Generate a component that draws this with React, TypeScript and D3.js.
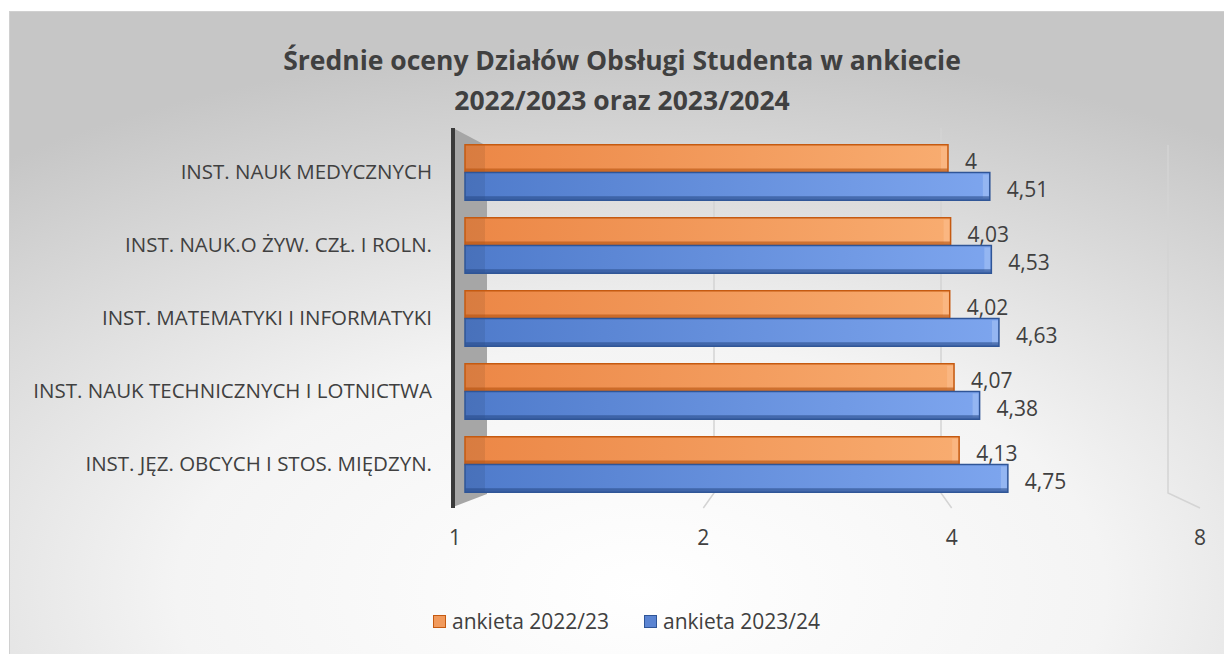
import React from "react";
import * as d3 from "d3";

const categories = [
  "INST. NAUK MEDYCZNYCH",
  "INST. NAUK.O ŻYW. CZŁ. I ROLN.",
  "INST. MATEMATYKI I INFORMATYKI",
  "INST. NAUK TECHNICZNYCH I LOTNICTWA",
  "INST. JĘZ. OBCYCH I STOS. MIĘDZYN.",
];
const values2223 = [4, 4.03, 4.02, 4.07, 4.13];
const values2324 = [4.51, 4.53, 4.63, 4.38, 4.75];
const labels2223 = ["4", "4,03", "4,02", "4,07", "4,13"];
const labels2324 = ["4,51", "4,53", "4,63", "4,38", "4,75"];
const seriesNames = ["ankieta 2022/23", "ankieta 2023/24"];
const ticks = [1, 2, 4, 8];

const W = 1224;
const H = 654;
const FONT = "'Open Sans', 'Noto Sans', sans-serif";
const TXT = "#404040";

export default function App() {
  // front face of bars
  const x = d3.scaleLog().base(2).domain([1, 8]).range([465, 1189.5]);
  // back wall (gridlines) and floor edge (tick labels) — fake perspective
  const xBack = d3.scaleLog().base(2).domain([1, 8]).range([487, 1168]);
  const xFloor = d3.scaleLog().base(2).domain([1, 8]).range([455, 1200]);

  const y = d3.scaleBand<string>().domain(categories).range([136, 501])
    .paddingInner(0.24).paddingOuter(0.12);
  const ySub = d3.scaleBand<number>().domain([0, 1]).range([0, y.bandwidth()]);

  const series = [
    { vals: values2223, labels: labels2223, grad: "gO", stroke: "#C55A11", dark: "#B4520F", light: "#FBC08F" },
    { vals: values2324, labels: labels2324, grad: "gB", stroke: "#2F5597", dark: "#2A4C8A", light: "#A8C4F5" },
  ];

  return (
    <svg width={W} height={H} style={{ position: "absolute", left: 0, top: 0 }}>
      <defs>
        <radialGradient id="bg" cx="0.52" cy="0.9" r="0.85" fx="0.52" fy="0.9">
          <stop offset="0" stopColor="#ffffff" />
          <stop offset="0.45" stopColor="#f4f4f4" />
          <stop offset="1" stopColor="#c6c6c6" />
        </radialGradient>
        <linearGradient id="gO" x1="0" x2="1" y1="0" y2="0">
          <stop offset="0" stopColor="#EC8746" />
          <stop offset="1" stopColor="#F8AC70" />
        </linearGradient>
        <linearGradient id="gB" x1="0" x2="1" y1="0" y2="0">
          <stop offset="0" stopColor="#4F7BCB" />
          <stop offset="1" stopColor="#7DA5EE" />
        </linearGradient>
      </defs>

      <rect x={9.5} y={11.5} width={W - 9} height={H - 11} fill="url(#bg)" stroke="#d0d0d0" />

      <text x={622} y={70} textAnchor="middle" fontFamily={FONT} fontWeight="bold" fontSize={26.5} fill={TXT}>
        Średnie oceny Działów Obsługi Studenta w ankiecie
      </text>
      <text x={622} y={110} textAnchor="middle" fontFamily={FONT} fontWeight="bold" fontSize={26.5} fill={TXT}>
        2022/2023 oraz 2023/2024
      </text>

      {/* gridlines: back wall + floor */}
      {ticks.slice(1).map((t) => (
        <path key={t}
          d={`M${xBack(t)},${t === 8 ? 145 : 128} L${xBack(t)},${493} L${xFloor(t)},${508}`}
          fill="none" stroke="#d4d4d4" strokeWidth={1.5} />
      ))}

      {/* left side wall */}
      <polygon points="453,128 487,146 487,494 453,507" fill="#a6a6a6" />
      <line x1={453} x2={453} y1={128} y2={508} stroke="#3a3a3a" strokeWidth={4} />

      {/* bars */}
      {categories.map((c, i) =>
        series.map((s, k) => {
          const y0 = (y(c) ?? 0) + (ySub(k) ?? 0);
          const h = ySub.bandwidth();
          const x0 = x(1);
          const x1 = x(s.vals[i]);
          return (
            <g key={c + k}>
              <rect x={x0} y={y0} width={x1 - x0} height={h} fill={`url(#${s.grad})`} />
              <rect x={x0} y={y0} width={20} height={h} fill="#000" opacity={0.08} />
              <rect x={x1 - 7} y={y0 + 2} width={6} height={h - 4} fill={s.light} opacity={0.55} />
              <rect x={x0} y={y0 + h - 4} width={x1 - x0} height={4} fill={s.dark} opacity={0.6} />
              <rect x={x0} y={y0} width={x1 - x0} height={h} fill="none" stroke={s.stroke} strokeWidth={1.5} />
              <text x={x1 + 17} y={y0 + h / 2 + 3} dy="0.35em" fontFamily={FONT} fontSize={21} fill={TXT}>
                {s.labels[i]}
              </text>
            </g>
          );
        })
      )}

      {/* category labels */}
      {categories.map((c) => (
        <text key={c} x={432} y={(y(c) ?? 0) + y.bandwidth() / 2 - 1} dy="0.35em" textAnchor="end"
          fontFamily={FONT} fontSize={20.5} fill={TXT}>
          {c}
        </text>
      ))}

      {/* tick labels */}
      {ticks.map((t) => (
        <text key={t} x={xFloor(t)} y={538} dy="0.35em" textAnchor="middle" fontFamily={FONT} fontSize={21} fill={TXT}>
          {t}
        </text>
      ))}

      {/* legend */}
      {seriesNames.map((n, k) => {
        const lx = k === 0 ? 433 : 644;
        const s = series[k];
        return (
          <g key={n}>
            <rect x={lx + 0.5} y={615.5} width={12} height={12} fill={k === 0 ? "#F19A5C" : "#5B84D2"} stroke={s.stroke} />
            <text x={lx + 19} y={622} dy="0.35em" fontFamily={FONT} fontSize={21} fill={TXT}>{n}</text>
          </g>
        );
      })}
    </svg>
  );
}
